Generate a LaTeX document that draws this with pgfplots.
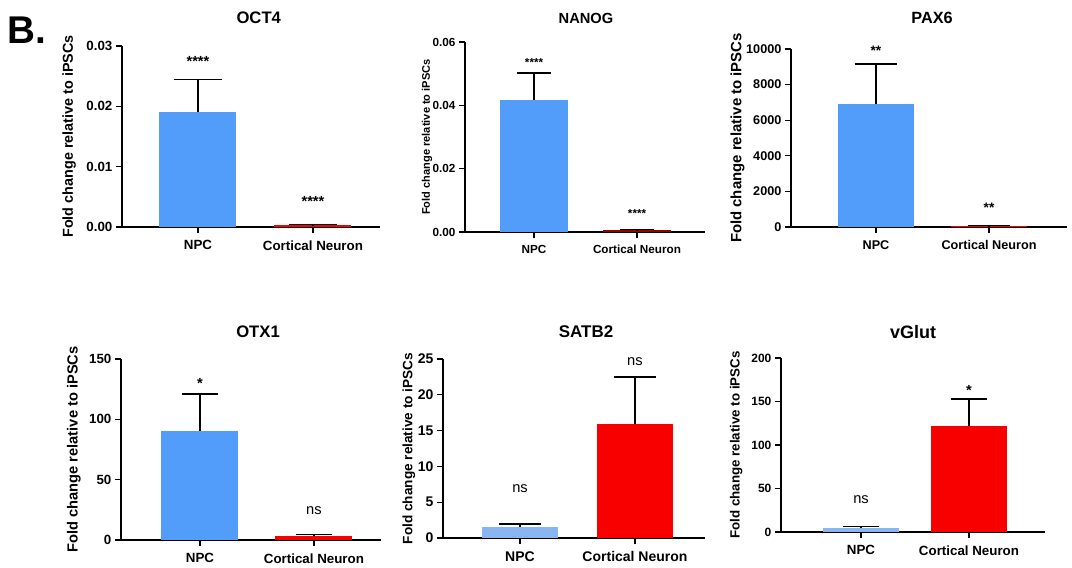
\documentclass[border=0pt]{standalone}
\usepackage{pgfplots}
\pgfplotsset{compat=1.18}
\usepackage{fontspec}
\setmainfont{Liberation Sans}
\definecolor{npcblue}{RGB}{81,157,249}
\definecolor{npclight}{RGB}{137,181,240}
\definecolor{cnred}{RGB}{248,0,0}
\pgfplotsset{
  panel/.style={
    scale only axis, anchor=south west,
    axis x line*=bottom, axis y line*=left,
    axis line style={line width=1pt, black},
    ymin=0, xtick={0,1}, xticklabels={NPC,Cortical Neuron},
    major tick style={line width=1pt, black}, major tick length=4.5pt,
    tick align=outside, scaled ticks=false,
    ylabel={Fold change relative to iPSCs},
    /pgf/number format/assume math mode=true,
    enlargelimits=false, clip=false,
    yticklabel style={inner sep=2.5pt},
    xticklabel style={yshift=-2pt},
  },
  eb/.style={error bars/.cd, y dir=plus, y explicit,
    error bar style={line width=1pt, black},
    error mark options={rotate=90, black, line width=1pt, mark size=#1}},
}
\tikzset{
  star/.style={font=\bfseries\fontsize{#1}{12}\selectfont, anchor=base, yshift=-0.585*#1pt},
  ns/.style={font=\fontsize{11}{12}\selectfont, anchor=base, yshift=-2.9pt},
}
\newcommand{\fs}[1]{\fontsize{#1}{#1}\selectfont}
\begin{document}
\begin{tikzpicture}
\path[use as bounding box, fill=white] (0,0) rectangle (804pt,-426pt);
\node[font=\bfseries\fs{29}] at (20.25pt,-22.5pt) {B.};

% OCT4
\begin{axis}[panel, at={(91.5pt,-170.25pt)}, width=193.5pt, height=135.75pt,
  xmin=-0.661, xmax=1.583, ymax=0.03, ytick={0,0.01,0.02,0.03},
  yticklabel style={/pgf/number format/.cd, fixed, fixed zerofill, precision=2},
  ybar, bar width=57.75pt,
  tick label style={font=\bfseries\fs{10}},
  ylabel style={font=\bfseries\fs{10.8}, at={(axis description cs:-0.205,0.5)}, anchor=center},
  title={OCT4}, title style={font=\bfseries\fs{12.5}, at={(axis description cs:0.53,1.155)}, anchor=center, yshift=-6pt}]
\addplot[fill=npcblue, draw=none, bar shift=0pt, eb=18pt] coordinates {(0,0.0191) +- (0,0.0053)};
\addplot[fill=cnred, draw=none, bar shift=0pt, eb=18pt] coordinates {(1,0.0003) +- (0,0.0001)};
\node[star=11] at (axis cs:0,0.0280) {****};
\node[star=11] at (axis cs:1,0.0048) {****};
\end{axis}

% NANOG
\begin{axis}[panel, at={(348.75pt,-174pt)}, width=180pt, height=142.5pt,
  xmin=-0.670, xmax=1.660, ymax=0.06, ytick={0,0.02,0.04,0.06},
  yticklabel style={/pgf/number format/.cd, fixed, fixed zerofill, precision=2},
  ybar, bar width=51pt,
  tick label style={font=\bfseries\fs{8.8}},
  ylabel style={font=\bfseries\fs{8.3}, at={(axis description cs:-0.158,0.5)}, anchor=center},
  title={NANOG}, title style={font=\bfseries\fs{11}, at={(axis description cs:0.504,1.126)}, anchor=center, yshift=-6pt}]
\addplot[fill=npcblue, draw=none, bar shift=0pt, eb=13pt] coordinates {(0,0.0417) +- (0,0.0085)};
\addplot[fill=cnred!60!black, draw=none, bar shift=0pt, eb=13pt] coordinates {(1,0.0005) +- (0,0.0002)};
\node[star=8.7] at (axis cs:0,0.0543) {****};
\node[star=8.7] at (axis cs:1,0.0066) {****};
\end{axis}

% PAX6
\begin{axis}[panel, at={(593.25pt,-170.25pt)}, width=207pt, height=133.5pt,
  xmin=-0.752, xmax=1.690, ymax=10000, ytick={0,2000,...,10000},
  yticklabel style={/pgf/number format/.cd, 1000 sep={}},
  ybar, bar width=57pt,
  tick label style={font=\bfseries\fs{9.5}},
  ylabel style={font=\bfseries\fs{11.2}, at={(axis description cs:-0.194,0.5)}, anchor=center},
  title={PAX6}, title style={font=\bfseries\fs{12.2}, at={(axis description cs:0.511,1.174)}, anchor=center, yshift=-6pt}]
\addplot[fill=npcblue, draw=none, bar shift=0pt, eb=16pt] coordinates {(0,6910) +- (0,2250)};
\addplot[fill=cnred, draw=none, bar shift=0pt, eb=16pt] coordinates {(1,50) +- (0,30)};
\node[star=10.3] at (axis cs:0,10112) {**};
\node[star=10.3] at (axis cs:1,1292) {**};
\end{axis}

% OTX1
\begin{axis}[panel, at={(90.75pt,-405pt)}, width=195pt, height=135.75pt,
  xmin=-0.693, xmax=1.588, ymax=150, ytick={0,50,100,150},
  ybar, bar width=57.75pt,
  tick label style={font=\bfseries\fs{10}},
  ylabel style={font=\bfseries\fs{11}, at={(axis description cs:-0.181,0.5)}, anchor=center},
  title={OTX1}, title style={font=\bfseries\fs{12.5}, at={(axis description cs:0.527,1.149)}, anchor=center, yshift=-6pt}]
\addplot[fill=npcblue, draw=none, bar shift=0pt, eb=13.5pt] coordinates {(0,90.5) +- (0,30.5)};
\addplot[fill=cnred, draw=none, bar shift=0pt, eb=13.5pt] coordinates {(1,3.5) +- (0,1.0)};
\node[star=11] at (axis cs:0,132.6) {*};
\node[ns] at (axis cs:1,24) {ns};
\end{axis}

% SATB2
\begin{axis}[panel, at={(332.25pt,-403.5pt)}, width=196.5pt, height=134.25pt,
  xmin=-0.670, xmax=1.609, ymax=25, ytick={0,5,...,25},
  ybar, bar width=57pt,
  tick label style={font=\bfseries\fs{10.5}},
  ylabel style={font=\bfseries\fs{10.2}, at={(axis description cs:-0.130,0.5)}, anchor=center},
  title={SATB2}, title style={font=\bfseries\fs{12.7}, at={(axis description cs:0.546,1.151)}, anchor=center, yshift=-6pt}]
\addplot[fill=npclight, draw=none, bar shift=0pt, eb=16pt] coordinates {(0,1.55) +- (0,0.4)};
\addplot[fill=cnred, draw=none, bar shift=0pt, eb=16pt] coordinates {(1,15.9) +- (0,6.6)};
\node[ns] at (axis cs:0,6.84) {ns};
\node[ns] at (axis cs:1,24.6) {ns};
\end{axis}

% vGlut
\begin{axis}[panel, at={(585.75pt,-399pt)}, width=198pt, height=130.5pt,
  xmin=-0.741, xmax=1.704, ymax=200, ytick={0,50,...,200},
  ybar, bar width=57pt,
  tick label style={font=\bfseries\fs{9}},
  xticklabel style={font=\bfseries\fs{10}},
  ylabel style={font=\bfseries\fs{10}, at={(axis description cs:-0.170,0.5)}, anchor=center},
  title={vGlut}, title style={font=\bfseries\fs{13.5}, at={(axis description cs:0.50,1.149)}, anchor=center, yshift=-6pt}]
\addplot[fill=npclight, draw=none, bar shift=0pt, eb=13.5pt] coordinates {(0,4.5) +- (0,1.5)};
\addplot[fill=cnred, draw=none, bar shift=0pt, eb=13.5pt] coordinates {(1,122) +- (0,31)};
\node[ns] at (axis cs:0,36.8) {ns};
\node[star=11] at (axis cs:1,166.7) {*};
\end{axis}
\end{tikzpicture}
\end{document}
